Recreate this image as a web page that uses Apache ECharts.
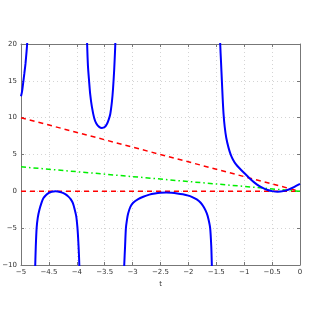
<!DOCTYPE html>
<html><head><meta charset="utf-8">
<style>html,body{margin:0;padding:0;background:#fff}#c{width:314px;height:319px}</style>
<script src="https://cdn.jsdelivr.net/npm/echarts@6/dist/echarts.min.js"></script>
</head><body><div id="c"></div>
<script>
var xTicks = [-5, -4.5, -4, -3.5, -3, -2.5, -2, -1.5, -1, -0.5, 0];
var yTicks = [-10, -5, 0, 5, 10, 15, 20];
var branchA = [[-5,12.9],[-4.98,13.6],[-4.96,14.8],[-4.94,16],[-4.92,17.3],[-4.9,19],[-4.89,20],[-4.88,21.5],[-4.87,23]];
var branchB = [[-4.752,-12],[-4.745,-10],[-4.735,-7.5],[-4.72,-5],[-4.70,-3.6],[-4.67,-2.5],[-4.63,-1.5],[-4.60,-0.95],[-4.55,-0.5],[-4.5,-0.22],[-4.45,-0.06],[-4.38,0],[-4.3,-0.08],[-4.25,-0.22],[-4.2,-0.42],[-4.15,-0.72],[-4.11,-1.05],[-4.07,-1.6],[-4.04,-2.4],[-4.01,-3.4],[-3.99,-4.8],[-3.975,-6.5],[-3.962,-8.5],[-3.955,-10],[-3.948,-12]];
var branchC = [[-3.825,23],[-3.815,20],[-3.8,17],[-3.78,15],[-3.76,13.2],[-3.73,11.5],[-3.69,10],[-3.65,9.2],[-3.6,8.75],[-3.55,8.6],[-3.5,8.72],[-3.46,9.15],[-3.43,9.7],[-3.40,10.5],[-3.37,12.2],[-3.35,14],[-3.33,16.5],[-3.315,19],[-3.31,20],[-3.30,23]];
var branchD = [[-3.158,-12],[-3.15,-10],[-3.135,-7.5],[-3.12,-5],[-3.10,-3.8],[-3.08,-3],[-3.04,-2.1],[-2.99,-1.55],[-2.9,-1.05],[-2.81,-0.73],[-2.7,-0.45],[-2.6,-0.3],[-2.5,-0.2],[-2.4,-0.17],[-2.3,-0.2],[-2.2,-0.28],[-2.1,-0.4],[-2.0,-0.58],[-1.94,-0.75],[-1.85,-1.1],[-1.78,-1.55],[-1.72,-2.2],[-1.67,-3],[-1.64,-3.8],[-1.61,-5],[-1.59,-7.5],[-1.58,-10],[-1.575,-12]];
var branchE = [[-1.44,23],[-1.43,20],[-1.415,17.5],[-1.40,15],[-1.385,12.5],[-1.37,10.5],[-1.35,8.8],[-1.32,7.2],[-1.28,5.9],[-1.24,4.95],[-1.2,4.3],[-1.15,3.7],[-1.08,3.1],[-1.0,2.5],[-0.9,1.75],[-0.81,1.15],[-0.72,0.68],[-0.66,0.44],[-0.58,0.18],[-0.5,0.03],[-0.4,-0.04],[-0.3,0.03],[-0.2,0.25],[-0.1,0.6],[0,1.0]];
var redLine = [[-5,10],[0,0]];
var greenLine = [[-5,3.33],[0,0]];
var zeroLine = [[-5,0],[0,0]];

function fmt(v){ return String(v).replace('-', '\u2212'); }
var chart = echarts.init(document.getElementById('c'));
var lbl = {fontSize:7, color:'#333', fontFamily:'DejaVu Sans', formatter: fmt, margin:4};
var axLine = {onZero:false, lineStyle:{color:'#777'}};
function blue(d){ return {type:'line', data:d, showSymbol:false, clip:true, smooth:0.25, lineStyle:{color:'#0000ff', width:2}, z:3}; }
chart.setOption({
  animation:false,
  grid:{left:21, right:14, top:44, bottom:54, show:false, containLabel:false, outerBoundsMode:'none'},
  xAxis:[{type:'value', min:-5, max:0, interval:0.5, position:'bottom',
    axisLine:axLine, axisTick:{inside:true, length:3, lineStyle:{color:'#777'}},
    axisLabel:lbl, splitLine:{show:true, lineStyle:{color:'#d4d4d4', type:[1,3]}},
    name:'t', nameLocation:'middle', nameGap:12, nameTextStyle:{fontSize:7, color:'#333', fontFamily:'DejaVu Sans'}},
    {type:'value', min:-5, max:0, interval:0.5, position:'top',
    axisLine:axLine, axisTick:{inside:true, length:3, lineStyle:{color:'#777'}},
    axisLabel:{show:false}, splitLine:{show:false}}],
  yAxis:[{type:'value', min:-10, max:20, interval:5, position:'left',
    axisLine:axLine, axisTick:{inside:true, length:3, lineStyle:{color:'#777'}},
    axisLabel:lbl, splitLine:{show:true, lineStyle:{color:'#d4d4d4', type:[1,3]}},
    name:'y', nameLocation:'middle', nameGap:13, nameRotate:90, nameTextStyle:{fontSize:7, color:'#333', fontFamily:'DejaVu Sans'}},
    {type:'value', min:-10, max:20, interval:5, position:'right',
    axisLine:axLine, axisTick:{inside:true, length:3, lineStyle:{color:'#777'}},
    axisLabel:{show:false}, splitLine:{show:false}}],
  series:[
    {type:'line', data:zeroLine, showSymbol:false, lineStyle:{color:'#ff0000', width:1.5, type:[5,4]}, z:2},
    {type:'line', data:redLine, showSymbol:false, lineStyle:{color:'#ff0000', width:1.5, type:[5,4]}, z:2},
    {type:'line', data:greenLine, showSymbol:false, lineStyle:{color:'#00ee00', width:1.5, type:[5,3,1.5,3]}, z:2},
    blue(branchA), blue(branchB), blue(branchC), blue(branchD), blue(branchE)
  ]
});
</script></body></html>
